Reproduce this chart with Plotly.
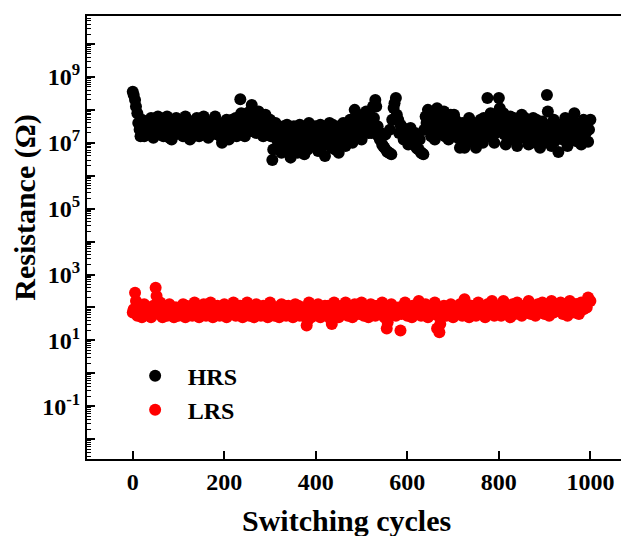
import plotly.graph_objects as go

# cycle numbers (two interleaved sample sets)
cycles_a = list(range(0, 1001, 5))
cycles_b = list(range(2, 1000, 5))

# log10(R) values
hrs_log_a = [
    8.55, 8.3, 7.9, 7.4, 7.7, 7.2, 7.6, 7.3, 7.75, 7.15,
    7.5, 7.8, 7.25, 7.6, 7.35, 7.8, 7.15, 7.1, 7.55, 7.75,
    7.3, 7.6, 7.2, 7.8, 7.4, 7.1, 7.65, 7.3, 7.75, 7.2,
    7.55, 7.8, 7.35, 7.15, 7.6, 7.4, 7.8, 7.25, 7.5, 7.0,
    7.35, 7.7, 7.1, 7.5, 7.25, 7.75, 7.4, 8.32, 7.6, 7.2,
    7.9, 7.45, 8.15, 7.6, 7.3, 7.95, 7.5, 7.2, 7.85, 7.35,
    7.7, 6.48, 7.4, 7.1, 6.8, 6.7, 7.5, 7.0, 7.3, 6.55,
    6.9, 7.4, 6.7, 7.55, 7.1, 6.65, 7.35, 7.6, 6.9, 7.2,
    7.5, 6.75, 7.55, 7.05, 6.6, 7.3, 7.6, 6.85, 7.15, 7.45,
    6.7, 7.3, 7.6, 6.9, 7.2, 7.7, 7.0, 8.0, 7.4, 7.8,
    7.1, 7.6, 7.95, 7.3, 7.7, 8.1, 8.3, 7.5, 7.1, 6.95,
    6.85, 6.75, 6.7, 6.65, 8.06, 8.36, 7.7, 7.55, 7.45, 7.4,
    7.3, 7.2, 7.05, 6.95, 6.85, 6.8, 6.7, 6.65, 7.8, 8.0,
    7.4, 7.9, 7.1, 8.05, 7.6, 7.3, 7.95, 7.5, 7.1, 7.85,
    7.4, 7.7, 7.15, 6.85, 7.6, 6.85, 7.3, 7.75, 7.05, 7.5,
    6.85, 7.3, 7.7, 7.0, 7.55, 8.36, 7.2, 7.8, 7.0, 7.6,
    8.36, 7.35, 7.9, 6.95, 7.5, 7.8, 7.1, 7.6, 6.9, 7.4,
    7.85, 7.15, 7.55, 6.95, 7.3, 7.75, 7.0, 7.45, 6.85, 7.65,
    7.2, 8.45, 7.5, 6.9, 7.7, 7.3, 6.72, 7.55, 7.1, 7.75,
    6.9, 7.4, 7.65, 7.9, 7.05, 7.5, 6.95, 7.7, 7.3, 7.03,
    7.7,
]
hrs_log_b = [
    8.45, 8.1, 7.6, 7.2, 7.45, 7.65, 7.3, 7.5, 7.35, 7.6,
    7.25, 7.45, 7.7, 7.2, 7.55, 7.35, 7.6, 7.4, 7.25, 7.45,
    7.7, 7.35, 7.55, 7.3, 7.65, 7.45, 7.2, 7.55, 7.4, 7.65,
    7.3, 7.5, 7.65, 7.4, 7.25, 7.7, 7.45, 7.6, 7.2, 7.45,
    7.6, 7.3, 7.45, 7.7, 7.55, 7.2, 7.6, 7.9, 7.85, 7.45,
    7.65, 7.95, 7.35, 7.85, 7.65, 7.4, 7.75, 7.55, 7.3, 7.6,
    7.2, 6.8, 7.6, 6.9, 7.25, 7.45, 7.15, 7.55, 6.85, 7.2,
    7.5, 6.95, 7.25, 6.85, 7.45, 7.05, 6.8, 7.3, 7.5, 6.95,
    7.15, 7.35, 6.85, 7.25, 7.45, 6.95, 7.2, 7.55, 6.8, 7.1,
    7.5, 6.95, 7.2, 7.45, 7.55, 7.3, 7.6, 7.2, 7.85, 7.5,
    7.35, 7.8, 7.5, 7.9, 7.3, 7.75, 8.1, 7.2, 7.3, 6.9,
    7.25, 6.72, 7.4, 7.7, 8.2, 7.85, 7.3, 7.5, 7.1, 7.35,
    6.95, 7.45, 7.0, 7.3, 6.82, 7.1, 6.68, 7.4, 7.6, 7.75,
    7.2, 7.6, 7.85, 7.35, 7.75, 7.55, 7.2, 7.75, 7.45, 7.6,
    7.85, 7.3, 7.5, 7.2, 7.4, 7.1, 7.55, 7.25, 7.6, 7.2,
    7.55, 7.1, 7.4, 7.75, 7.35, 7.6, 7.9, 7.45, 7.3, 7.8,
    8.05, 7.6, 7.25, 7.7, 7.2, 7.45, 7.75, 7.3, 7.55, 7.15,
    7.5, 7.75, 7.25, 7.6, 7.45, 7.2, 7.7, 7.1, 7.35, 7.0,
    7.45, 7.95, 7.2, 7.5, 7.05, 7.55, 7.2, 7.35, 7.6, 7.25,
    7.55, 7.15, 7.3, 7.6, 7.45, 7.2, 7.6, 7.15, 7.5, 7.4,
]

lrs_log_a = [
    1.85, 2.45, 1.75, 2.0, 1.7, 2.1, 1.8, 1.95, 1.7, 2.05,
    2.6, 1.85, 2.15, 1.7, 1.95, 1.75, 2.1, 1.8, 1.7, 2.0,
    1.75, 1.9, 2.1, 1.7, 1.85, 2.0, 1.75, 2.15, 1.8, 1.7,
    1.95, 2.1, 1.75, 1.85, 2.15, 1.7, 1.9, 2.05, 1.75, 1.8,
    2.1, 1.7, 1.95, 1.8, 2.15, 1.75, 1.9, 2.05, 1.7, 1.85,
    2.15, 1.75, 1.95, 1.7, 2.1, 1.85, 1.75, 2.05, 1.8, 1.7,
    2.15, 1.9, 1.75, 2.0, 1.7, 2.1, 1.85, 1.75, 2.05, 1.8,
    1.7, 2.1, 1.9, 1.75, 2.0, 1.85, 1.45, 2.15, 1.7, 1.95,
    1.8, 2.1, 1.7, 1.9, 2.05, 1.75, 1.85, 1.5, 2.15, 1.8,
    1.7, 2.0, 1.85, 2.15, 1.75, 1.95, 1.7, 2.1, 1.8, 1.9,
    2.15, 1.75, 1.95, 1.7, 2.1, 1.85, 1.75, 2.05, 1.8, 2.15,
    1.7, 1.36, 1.95, 2.1, 1.8, 1.75, 2.0, 1.3, 1.85, 2.15,
    1.75, 1.95, 1.7, 2.05, 1.85, 2.2, 1.75, 1.9, 2.1, 1.7,
    1.95, 1.8, 2.15, 1.36, 1.25, 1.85, 2.05, 1.75, 1.9, 2.1,
    1.7, 1.95, 1.8, 2.1, 1.75, 2.25, 1.85, 1.7, 2.05, 1.9,
    1.75, 2.15, 1.8, 1.95, 1.7, 2.1, 1.85, 2.2, 1.75, 1.9,
    2.05, 1.75, 2.2, 1.85, 1.95, 1.7, 2.1, 1.8, 2.15, 1.9,
    1.75, 2.05, 1.85, 2.2, 1.8, 1.95, 1.75, 2.1, 1.9, 2.15,
    1.8, 2.0, 1.75, 2.2, 1.85, 2.05, 1.9, 2.15, 1.8, 2.0,
    1.75, 2.2, 1.9, 1.85, 2.1, 1.8, 2.15, 1.95, 2.05, 2.3,
    2.2,
]
lrs_log_b = [
    1.95, 2.2, 1.9, 1.8, 2.05, 1.85, 2.0, 1.75, 1.9, 1.8,
    2.35, 2.0, 1.8, 1.95, 1.85, 2.05, 1.9, 1.8, 2.0, 1.85,
    1.95, 1.8, 1.9, 2.05, 1.8, 1.9, 2.0, 1.85, 1.95, 1.8,
    1.85, 1.95, 2.0, 1.8, 1.9, 2.05, 1.8, 1.9, 2.0, 1.85,
    1.8, 1.95, 1.85, 2.0, 1.9, 1.8, 2.05, 1.85, 1.95, 1.8,
    1.9, 2.0, 1.8, 1.95, 1.85, 2.0, 1.9, 1.8, 1.95, 2.0,
    1.85, 1.8, 2.0, 1.9, 1.85, 1.95, 2.05, 1.8, 1.9, 2.0,
    1.9, 1.8, 2.05, 1.85, 1.95, 1.75, 1.6, 1.9, 2.0, 1.8,
    1.95, 1.85, 2.0, 1.8, 1.9, 2.05, 1.65, 1.9, 1.95, 2.05,
    1.9, 1.8, 2.05, 1.9, 1.85, 2.0, 1.9, 1.85, 2.05, 1.8,
    1.9, 2.0, 1.8, 1.95, 1.85, 2.05, 1.95, 1.85, 2.0, 1.85,
    1.9, 1.55, 1.85, 2.0, 1.95, 1.85, 1.9, 1.8, 2.05, 1.95,
    1.9, 1.85, 2.05, 1.8, 2.0, 1.95, 1.85, 2.0, 1.9, 1.95,
    1.85, 2.0, 1.9, 1.75, 1.5, 1.95, 1.9, 2.0, 1.85, 1.95,
    1.9, 1.85, 2.0, 1.9, 2.05, 1.95, 2.0, 1.85, 1.95, 2.05,
    1.9, 2.0, 1.95, 1.85, 2.05, 1.95, 2.0, 1.9, 2.05, 1.95,
    1.9, 2.0, 1.95, 2.05, 1.85, 2.0, 1.95, 2.05, 1.9, 2.0,
    1.95, 1.9, 2.05, 1.95, 2.0, 1.9, 2.05, 1.95, 2.0, 1.9,
    2.05, 1.9, 2.0, 1.95, 2.1, 1.9, 2.0, 2.05, 1.95, 2.1,
    1.95, 2.05, 2.0, 2.1, 1.95, 2.05, 2.0, 2.1, 2.0, 2.2,
]

x_ticks = [0, 200, 400, 600, 800, 1000]
y_exps = list(range(-2, 11))
x_title = "Switching cycles"
y_title = "Resistance (Ω)"

hrs_x = cycles_a + cycles_b
hrs_y = [10 ** v for v in hrs_log_a + hrs_log_b]
lrs_x = cycles_a + cycles_b
lrs_y = [10 ** v for v in lrs_log_a + lrs_log_b]

y_tickvals = [10 ** e for e in y_exps]
y_ticktext = [f"<b>10<sup>{e}</sup></b>" if e % 2 else "" for e in y_exps]

font_family = "Liberation Serif"

fig = go.Figure()
fig.add_trace(go.Scatter(x=hrs_x, y=hrs_y, mode="markers", name="<b>HRS</b>",
                         marker=dict(color="black", size=12)))
fig.add_trace(go.Scatter(x=lrs_x, y=lrs_y, mode="markers", name="<b>LRS</b>",
                         marker=dict(color="#ff0000", size=12)))

fig.update_layout(
    width=621, height=528,
    margin=dict(l=79, r=2, t=8, b=77, autoexpand=False),
    paper_bgcolor="white", plot_bgcolor="white",
    font=dict(family=font_family, color="black", size=24),
    legend=dict(x=0.066, y=0.238, xanchor="left", yanchor="top",
                bgcolor="rgba(0,0,0,0)", font=dict(size=24, family=font_family),
                itemwidth=55, tracegroupgap=0),
    showlegend=True,
    annotations=[
        dict(text=f"<b>{x_title}</b>", xref="paper", yref="paper", x=0.48, y=-0.138,
             xanchor="center", yanchor="middle", showarrow=False,
             font=dict(size=30, family=font_family)),
        dict(text=f"<b>{y_title}</b>", xref="paper", yref="paper", x=-0.115, y=0.567,
             xanchor="center", yanchor="middle", showarrow=False, textangle=-90,
             font=dict(size=30, family=font_family)),
    ],
)
fig.update_xaxes(
    range=[-100, 1080], tickvals=x_ticks,
    ticktext=[f"<b>{v}</b>" for v in x_ticks],
    ticks="inside", ticklen=8, tickwidth=2, tickcolor="black",
    showline=True, linewidth=2, linecolor="black", mirror=True,
    showgrid=False, zeroline=False, automargin=False,
    tickfont=dict(size=24, family=font_family),
)
fig.update_yaxes(
    type="log", range=[-2.6, 10.85],
    tickvals=y_tickvals, ticktext=y_ticktext,
    ticks="inside", ticklen=8, tickwidth=2, tickcolor="black",
    minor=dict(ticks="inside", ticklen=4, tickwidth=1, tickcolor="black", dtick="D1", showgrid=False),
    showline=True, linewidth=2, linecolor="black", mirror=True,
    showgrid=False, zeroline=False, automargin=False,
    tickfont=dict(size=24, family=font_family),
)

fig.write_html("out.html")
